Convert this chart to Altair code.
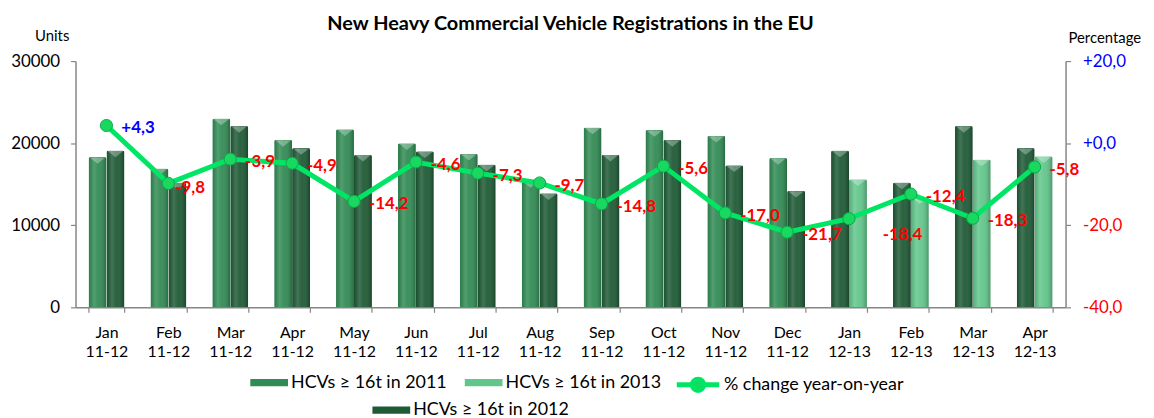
import altair as alt
import pandas as pd

# ---------------- data ----------------
months = ["Jan", "Feb", "Mar", "Apr", "May", "Jun", "Jul", "Aug", "Sep", "Oct", "Nov", "Dec",
          "Jan", "Feb", "Mar", "Apr"]
periods = ["11-12"] * 12 + ["12-13"] * 4
hcv_2011 = [18300, 16900, 23000, 20400, 21700, 20000, 18700, 15400, 21900, 21600, 20900, 18200]
hcv_2012 = [19100, 15200, 22100, 19400, 18600, 19000, 17400, 13900, 18600, 20400, 17300, 14200,
            19100, 15200, 22100, 19400]
hcv_2013 = [15600, 13400, 18000, 18400]
pct_change = [4.3, -9.8, -3.9, -4.9, -14.2, -4.6, -7.3, -9.7, -14.8, -5.6, -17.0, -21.7,
              -18.4, -12.4, -18.3, -5.8]
left_ticks = [0, 10000, 20000, 30000]
right_ticks = [-40, -20, 0, 20]

S11 = "HCVs ≥ 16t in 2011"
S12 = "HCVs ≥ 16t in 2012"
S13 = "HCVs ≥ 16t in 2013"
SL = "% change year-on-year"

# ---------------- tables ----------------
cats = [f"{m} {p}" for m, p in zip(months, periods)]
rows = []
for i, c in enumerate(cats):
    if i < 12:
        rows.append(dict(cat=c, series=S11, slot="a", units=hcv_2011[i]))
        rows.append(dict(cat=c, series=S12, slot="b", units=hcv_2012[i]))
    else:
        rows.append(dict(cat=c, series=S12, slot="a", units=hcv_2012[i]))
        rows.append(dict(cat=c, series=S13, slot="b", units=hcv_2013[i - 12]))
bars_df = pd.DataFrame(rows)

pct_df = pd.DataFrame({
    "cat": cats,
    "pct": pct_change,
    "series": [SL] * len(cats),
    "idx": list(range(len(cats))),
    "label": [f"{v:+.1f}".replace(".", ",") for v in pct_change],
})

# ---------------- style ----------------
FONT = "Lato"
GRAY = "#868686"
C11 = "#318b54"
C12 = "#1e5a35"
C13 = "#62c68b"
LINE = "#00e664"
PT = "#19d860"

RECT_PATH = "M-1,-0.38H3V0.38H-1Z"
LINE_PATH = "M-1,0H0.65A0.6,0.6 0 1,1 1.85,0H3.5M1.85,0A0.6,0.6 0 1,1 0.65,0"
CHEVRON = "M-1,-0.45L1,-0.45L0,0.35Z"

x_enc = alt.X(
    "cat:N",
    scale=alt.Scale(domain=cats, paddingInner=0.42, paddingOuter=0.21),
    axis=alt.Axis(
        title=None,
        labelExpr="isString(datum.value) ? split(datum.value, ' ') : ''",
        labelAngle=0, labelFont=FONT, labelFontSize=16, labelColor="#000",
        labelLineHeight=20, labelPadding=12, labelBaseline="top", tickBand="extent",
        tickSize=5, tickColor=GRAY, domainColor=GRAY, domainWidth=1.5, tickWidth=1.2,
    ),
)

y_units = alt.Y(
    "units:Q",
    scale=alt.Scale(domain=[0, 30000]),
    axis=alt.Axis(
        orient="left", values=left_ticks, format="d", grid=False,
        labelFont=FONT, labelFontSize=17, labelColor="#000", labelPadding=11,
        tickSize=5, tickColor=GRAY, domainColor=GRAY, domainWidth=1.5, tickWidth=1.2,
        title="Units", titleAngle=0, titleX=-24, titleY=-26, titleAlign="center",
        titleBaseline="middle", titleFont=FONT, titleFontSize=15,
        titleFontWeight="normal", titleColor="#000",
    ),
)

y_pct = alt.Y(
    "pct:Q",
    scale=alt.Scale(domain=[-40, 20]),
    axis=alt.Axis(
        orient="right", values=right_ticks, grid=False,
        labelExpr="(datum.value >= 0 ? '+' : '') + replace(replace(format(datum.value, '.1f'), '.', ','), '\u2212', '-')",
        labelColor={"condition": {"test": "datum.value >= 0", "value": "#0000ff"}, "value": "#ff0000"},
        labelFont=FONT, labelFontSize=17, labelPadding=12,
        tickSize=5, tickColor=GRAY, domainColor=GRAY, domainWidth=1.5, tickWidth=1.2,
        title="Percentage", titleAngle=0, titleX=39, titleY=-24, titleAlign="center",
        titleBaseline="middle", titleFont=FONT, titleFontSize=15,
        titleFontWeight="normal", titleColor="#000",
    ),
)

leg_common = dict(
    orient="none", direction="horizontal", title=None, labelFont=FONT,
    labelFontSize=18, labelColor="#000", symbolSize=361,
    symbolOpacity=1, columnPadding=18, labelLimit=400,
)

xoff = alt.XOffset("slot:N", scale=alt.Scale(domain=["a", "b"]))
bar_kw = dict(cornerRadiusTopLeft=2, cornerRadiusTopRight=2)

bars_a = alt.Chart(bars_df).transform_filter(
    alt.FieldOneOfPredicate(field="series", oneOf=[S11, S13])
).mark_bar(**bar_kw).encode(
    x=x_enc, xOffset=xoff, y=y_units,
    color=alt.Color("series:N", scale=alt.Scale(domain=[S11, S13], range=[C11, C13]),
                    legend=alt.Legend(symbolType=RECT_PATH, legendX=176, legendY=314,
                                      symbolStrokeWidth=0, labelOffset=22, **leg_common)),
)

bars_b = alt.Chart(bars_df).transform_filter(
    alt.FieldEqualPredicate(field="series", equal=S12)
).mark_bar(**bar_kw).encode(
    x=x_enc, xOffset=xoff, y=y_units,
    color=alt.Color("series:N", scale=alt.Scale(domain=[S12], range=[C12]),
                    legend=alt.Legend(symbolType=RECT_PATH, legendX=299, legendY=342,
                                      symbolStrokeWidth=0, labelOffset=22, **leg_common)),
)

shine = {
    "gradient": "linear", "x1": 0, "x2": 1, "y1": 0, "y2": 0,
    "stops": [
        {"offset": 0.0, "color": "rgba(0,0,0,0.12)"},
        {"offset": 0.3, "color": "rgba(255,255,255,0.16)"},
        {"offset": 0.55, "color": "rgba(255,255,255,0.05)"},
        {"offset": 1.0, "color": "rgba(0,0,0,0.25)"},
    ],
}
bars_shine = alt.Chart(bars_df).mark_bar(fill=shine, **bar_kw).encode(
    x=x_enc, xOffset=xoff, y=y_units)

caps = alt.Chart(bars_df).mark_point(
    shape=CHEVRON, filled=True, size=256, color="#ffffff", opacity=0.3, yOffset=4
).encode(x=x_enc, xOffset=xoff, y=y_units)

bars = alt.layer(bars_a, bars_b, bars_shine, caps).resolve_scale(color="independent")

line = alt.Chart(pct_df).mark_line(color=LINE, strokeWidth=5).encode(x=x_enc, y=y_pct)

points = alt.Chart(pct_df).mark_point(filled=True, size=150, opacity=1, stroke="#0aa84a", strokeWidth=1).encode(
    x=x_enc, y=y_pct,
    color=alt.Color("series:N", scale=alt.Scale(domain=[SL], range=[PT]),
                    legend=alt.Legend(
                        symbolType=LINE_PATH, legendX=603, legendY=314, labelOffset=26,
                        symbolStrokeColor=LINE, symbolStrokeWidth=5, symbolFillColor=PT,
                        **leg_common)),
)

lab_color = alt.condition("datum.pct >= 0", alt.value("#0000ff"), alt.value("#ff0000"))
txt_kw = dict(align="left", baseline="middle", fontSize=17, fontWeight="bold", font=FONT)

labels_main = alt.Chart(pct_df).transform_filter("datum.idx != 1 && datum.idx != 12").mark_text(
    dx=15, dy=3, **txt_kw).encode(x=x_enc, y=y_pct, text="label:N", color=lab_color)
labels_feb = alt.Chart(pct_df).transform_filter("datum.idx == 1").mark_text(
    dx=7, dy=5, **txt_kw).encode(x=x_enc, y=y_pct, text="label:N", color=lab_color)
labels_jan = alt.Chart(pct_df).transform_filter("datum.idx == 12").mark_text(
    dx=34, dy=16, **txt_kw).encode(x=x_enc, y=y_pct, text="label:N", color=lab_color)

pct_layer = alt.layer(line, points, labels_main, labels_feb, labels_jan)

chart = alt.layer(bars, pct_layer).resolve_scale(
    y="independent", color="independent"
).properties(
    width=997, height=248,
    title=alt.TitleParams(
        "New Heavy Commercial Vehicle Registrations in the EU",
        font=FONT, fontSize=20, fontWeight="bold", color="#000", anchor="middle",
        offset=4, dy=10,
    ),
    autosize=alt.AutoSizeParams(type="none"),
    padding={"left": 68, "top": 52, "right": 81, "bottom": 110},
).configure_view(stroke=None)

chart.save("out.html", embed_options={"renderer": "svg", "actions": False})
